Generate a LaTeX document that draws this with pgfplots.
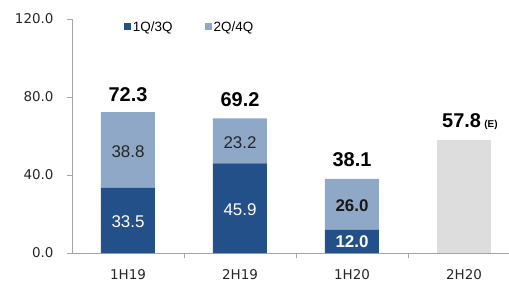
\documentclass[border=0pt]{standalone}
\usepackage{pgfplots}
\pgfplotsset{compat=1.18}
\usepackage{fontspec}
\setmainfont{Liberation Sans}
\newfontfamily\tickfont{DejaVu Sans}
\definecolor{dkblue}{HTML}{24508A}
\definecolor{ltblue}{HTML}{8FA8C8}
\definecolor{ltgray}{HTML}{DDDDDD}
\definecolor{axgray}{HTML}{A6A6A6}
\begin{document}
\begin{tikzpicture}
\begin{axis}[name=ax, at={(0,0)}, anchor=south west,
  scale only axis, width=437bp, height=234bp,
  xmin=-0.5, xmax=3.402, ymin=0, ymax=120,
  ybar stacked, bar width=54bp,
  axis x line=bottom, axis y line=left,
  axis line style={draw=axgray, line width=0.8pt, -},
  tick align=outside,
  ytick={0,40,80,120}, yticklabels={0.0,40.0,80.0,120.0},
  xtick={0,1,2,3}, xticklabels={1H19,2H19,1H20,2H20},
  minor xtick={0.5,1.5,2.5},
  every major x tick/.style={draw=none},
  every minor x tick/.style={draw=axgray, line width=0.8pt},
  every major y tick/.style={draw=axgray, line width=0.8pt},
  major tick length=5bp, minor tick length=5bp,
  /pgf/number format/assume math mode=true,
  ticklabel style={font=\tickfont\fontsize{13.5}{13.5}\selectfont, text=black!85},
  xticklabel style={yshift=-8bp},
  yticklabel style={xshift=-10bp},
  legend columns=2,
  legend style={draw=none, fill=none, at={(axis cs:0.55,115.9)}, anchor=center,
    font=\fontsize{13.5}{13.5}\selectfont,
    nodes={inner sep=2bp},
    /tikz/every even column/.append style={column sep=30bp}},
  legend image code/.code={\fill[#1] (0bp,-3.5bp) rectangle (7bp,3.5bp);},
  after end axis/.append code={
    \node[font=\fontsize{17}{17}\selectfont, text=white] at (axis cs:0,15.9) {33.5};
    \node[font=\fontsize{17}{17}\selectfont, text=black!85] at (axis cs:0,52.0) {38.8};
    \node[font=\fontsize{17}{17}\selectfont, text=white] at (axis cs:1,22.1) {45.9};
    \node[font=\fontsize{17}{17}\selectfont, text=black!85] at (axis cs:1,56.7) {23.2};
    \node[font=\fontsize{17}{17}\selectfont\bfseries, text=white] at (axis cs:2,5.6) {12.0};
    \node[font=\fontsize{17}{17}\selectfont\bfseries, text=black!90] at (axis cs:2,24.2) {26.0};
  },
]
\addplot[fill=dkblue, draw=none] coordinates {(0,33.5) (1,45.9) (2,12.0) (3,0)};
\addlegendentry{1Q/3Q}
\addplot[fill=ltblue, draw=none] coordinates {(0,38.8) (1,23.2) (2,26.0) (3,0)};
\addlegendentry{2Q/4Q}
\addplot[fill=ltgray, draw=none, forget plot] coordinates {(0,0) (1,0) (2,0) (3,57.8)};

% totals
\node[font=\fontsize{20}{20}\selectfont\bfseries] at (axis cs:0,81.0) {72.3};
\node[font=\fontsize{20}{20}\selectfont\bfseries] at (axis cs:1,78.5) {69.2};
\node[font=\fontsize{20}{20}\selectfont\bfseries] at (axis cs:2,47.7) {38.1};
\node[font=\fontsize{20}{20}\selectfont\bfseries, anchor=base west, inner sep=0pt] at (axis cs:2.804,64.6) {57.8\,{\fontsize{10}{10}\selectfont (E)}};
\end{axis}
\pgfresetboundingbox
\path ([shift={(-72bp,-31bp)}]ax.south west) rectangle ([shift={(437bp,253bp)}]ax.south west);
\end{tikzpicture}
\end{document}
